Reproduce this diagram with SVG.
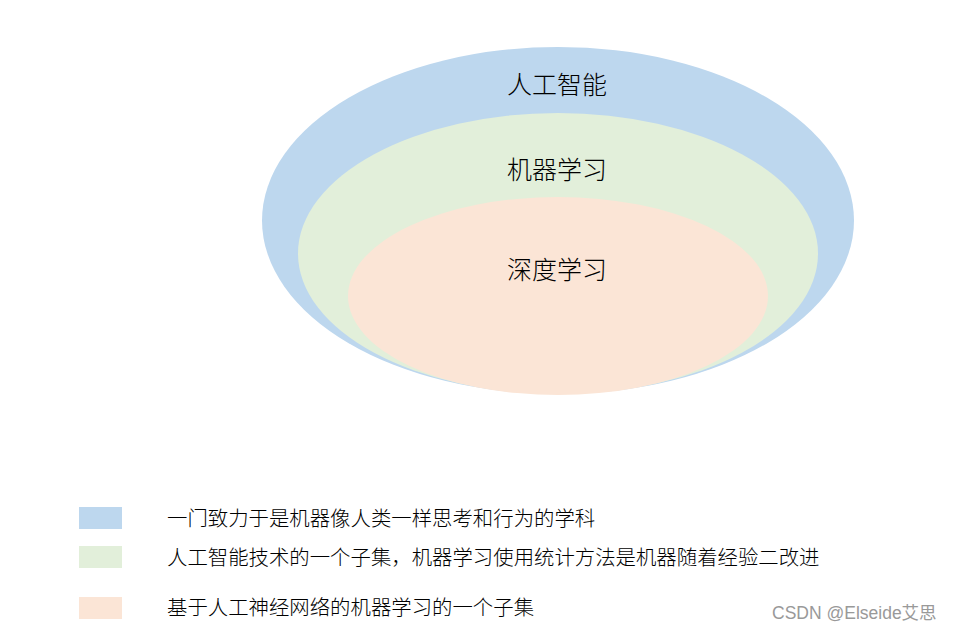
<svg xmlns="http://www.w3.org/2000/svg" width="957" height="633" viewBox="0 0 957 633">
<style>
.t{font-family:"Microsoft YaHei","Noto Sans CJK SC",sans-serif;fill:#000}
.big{font-size:25px;text-anchor:middle;font-weight:300}
.leg{font-size:20.4px;font-weight:300}
.wm{font-family:"Liberation Sans","Noto Sans CJK SC",sans-serif;font-size:17.5px;fill:#999}
</style>
<rect width="957" height="633" fill="#fff"/>
<g id="ai"><ellipse cx="558" cy="220.5" rx="296" ry="173.5" fill="#BDD7EE"/></g>
<g id="ml"><ellipse cx="558" cy="253.5" rx="260" ry="140.5" fill="#E2EFDA"/></g>
<g id="dl"><ellipse cx="558" cy="296" rx="210" ry="99" fill="#FBE5D6"/></g>
<g id="labels">
<text class="t big" x="557" y="94">人工智能</text>
<text class="t big" x="557" y="179">机器学习</text>
<text class="t big" x="557" y="279">深度学习</text>
</g>
<g id="legend">
<rect x="79" y="507" width="43" height="22" fill="#BDD7EE"/>
<rect x="79" y="546" width="43" height="22" fill="#E2EFDA"/>
<rect x="79" y="597" width="43" height="22" fill="#FBE5D6"/>
<text class="t leg" x="167" y="526">一门致力于是机器像人类一样思考和行为的学科</text>
<text class="t leg" x="167" y="565">人工智能技术的一个子集，机器学习使用统计方法是机器随着经验二改进</text>
<text class="t leg" x="167" y="615">基于人工神经网络的机器学习的一个子集</text>
</g>
<text class="wm" x="772" y="619">CSDN @Elseide艾思</text>
</svg>
